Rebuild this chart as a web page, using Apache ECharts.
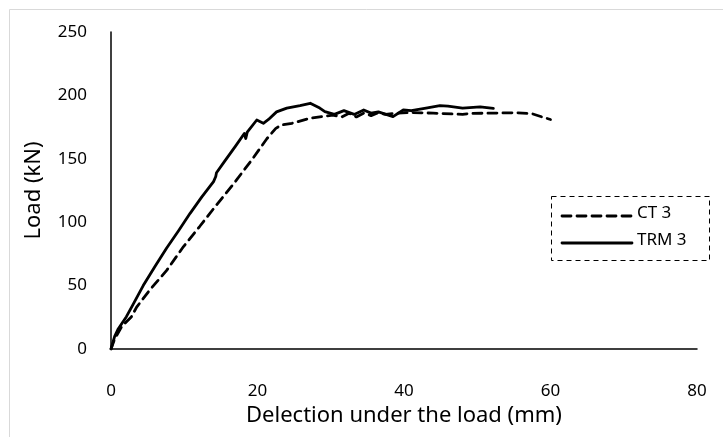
<!DOCTYPE html>
<html><head><meta charset="utf-8">
<script src="https://cdn.jsdelivr.net/npm/echarts@6/dist/echarts.min.js"></script>
<style>html,body{margin:0;padding:0;background:#fff}#c{width:723px;height:437px}</style>
</head><body><div id="c"></div>
<script>
var ct3X = [0, 0.5, 1.5, 2.8, 3.5, 5.3, 7.6, 9.9, 12.1, 14.4, 16.7, 19.2, 21.3, 22.5, 23.3, 24.7, 27.2, 30.3, 31.5, 32.5, 33.5, 34.5, 35.5, 36.5, 37.5, 39, 41, 44, 48, 49, 51.7, 55.4, 57.5, 59, 60];
var ct3Y = [0, 8, 18, 25.5, 33, 46.6, 62, 80.8, 96.6, 113.6, 130, 149, 166, 174, 176.7, 178, 182, 184.5, 183, 186, 183, 186, 184, 186.5, 185, 186, 186.5, 186, 185, 185.8, 186, 186.3, 185.5, 182.7, 181];
var trm3X = [0, 0.5, 1, 2.1, 3, 4.4, 6, 7.6, 9.2, 10.8, 12.4, 14.0, 14.3, 14.4, 15.5, 17, 18.2, 18.4, 18.6, 19.9, 20.8, 21.5, 22.6, 24, 25.8, 27.2, 28.5, 29.2, 30.5, 31.8, 33.2, 34.5, 35.5, 36.5, 38.5, 39.9, 41, 42, 43, 44.9, 46, 48, 50.4, 52.2];
var trm3Y = [0, 10, 16, 25.5, 35, 50, 65, 79.6, 93, 107, 120, 132, 136, 139, 148, 160, 170, 166, 171, 180.6, 178, 181, 187, 190, 192, 193.8, 190, 187.2, 185, 188, 185, 188.5, 186, 187, 183.2, 188.5, 188, 189, 190, 192, 191.5, 190, 191, 189.8];
var xTicks = [0, 20, 40, 60, 80];
var yTicks = [0, 50, 100, 150, 200, 250];
var seriesNames = ['CT 3', 'TRM 3'];

function pairs(xs, ys){ return xs.map(function(x,i){return [x, ys[i]];}); }
var font = 'Noto Sans';
var chart = echarts.init(document.getElementById('c'), null, {renderer:'canvas'});
chart.setOption({
  animation:false,
  backgroundColor:'#fff',
  textStyle:{fontFamily:font},
  grid:{left:111, right:26, top:32, bottom:88, containLabel:false},
  graphic:[
    {type:'rect', shape:{x:9.5, y:9.5, width:730, height:440}, style:{fill:'none', stroke:'#d9d9d9', lineWidth:1}, silent:true},
    {type:'rect', shape:{x:551.5, y:196.5, width:158, height:64}, style:{fill:'#fff', stroke:'#000', lineWidth:1, lineDash:[5,4]}, silent:true, z:50},
    {type:'line', shape:{x1:562, y1:216, x2:632, y2:216}, style:{stroke:'#000', lineWidth:2.8, lineDash:[9,6], lineCap:'round'}, silent:true, z:60},
    {type:'text', left:637, top:205, style:{text:seriesNames[0], font:'17px "Noto Sans"', fill:'#000'}, silent:true, z:60},
    {type:'line', shape:{x1:562, y1:243, x2:632, y2:243}, style:{stroke:'#000', lineWidth:2.8, lineCap:'round'}, silent:true, z:60},
    {type:'text', left:637, top:232, style:{text:seriesNames[1], font:'17px "Noto Sans"', fill:'#000'}, silent:true, z:60}
  ],
  xAxis:{
    type:'value', min:0, max:80, interval:20,
    name:'Delection under the load (mm)', nameLocation:'middle', nameGap:56,
    nameTextStyle:{fontFamily:font, fontSize:22, color:'#000'},
    axisLine:{show:true, onZero:false, lineStyle:{color:'#000', width:1.5}},
    axisTick:{show:false}, splitLine:{show:false},
    axisLabel:{fontFamily:font, fontSize:17, color:'#000', margin:34,
      formatter:function(v){return xTicks.indexOf(v)>=0? String(v):'';}}
  },
  yAxis:{
    type:'value', min:0, max:250, interval:50,
    name:'Load (kN)', nameLocation:'middle', nameGap:66,
    nameTextStyle:{fontFamily:font, fontSize:22, color:'#000'},
    axisLine:{show:true, onZero:false, lineStyle:{color:'#000', width:1.5}},
    axisTick:{show:false}, splitLine:{show:false},
    axisLabel:{fontFamily:font, fontSize:17, color:'#000', margin:24,
      formatter:function(v){return yTicks.indexOf(v)>=0? String(v):'';}}
  },
  series:[
    {name:seriesNames[0], type:'line', data:pairs(ct3X, ct3Y), showSymbol:false, symbol:'none', smooth:false,
      lineStyle:{color:'#000', width:2.8, type:[9,6], cap:'round'}, itemStyle:{color:'#000'}},
    {name:seriesNames[1], type:'line', data:pairs(trm3X, trm3Y), showSymbol:false, symbol:'none', smooth:false,
      lineStyle:{color:'#000', width:2.8, cap:'round', join:'round'}, itemStyle:{color:'#000'}}
  ]
});
</script></body></html>
